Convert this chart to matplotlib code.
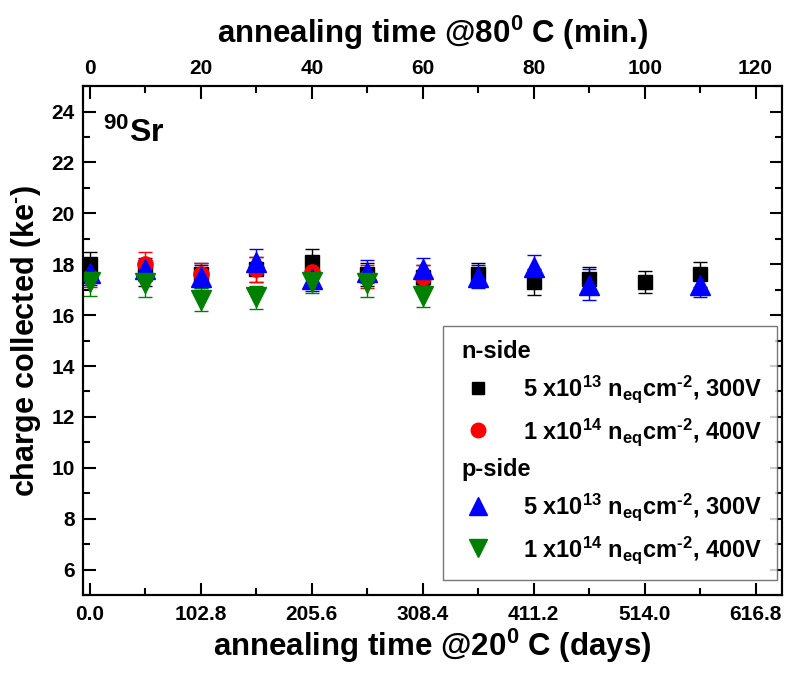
import numpy as np
import matplotlib
matplotlib.use('Agg')
import matplotlib.pyplot as plt
from matplotlib.lines import Line2D

plt.rcParams['font.family'] = ['Liberation Sans', 'DejaVu Sans']
plt.rcParams['font.weight'] = 'bold'
plt.rcParams['mathtext.fontset'] = 'custom'
plt.rcParams['mathtext.rm'] = 'Liberation Sans:bold'
plt.rcParams['mathtext.bf'] = 'Liberation Sans:bold'
plt.rcParams['mathtext.default'] = 'rm'

# annealing time at 80 C (min.) -> days at 20 C
days_per_min = 102.8 / 20

# n-side 5e13, 300V
t_n5 = [0, 10, 20, 30, 40, 50, 60, 70, 80, 90, 100, 110]
q_n5 = [18.0, 17.65, 17.6, 17.8, 18.1, 17.6, 17.5, 17.6, 17.3, 17.4, 17.3, 17.6]
e_n5 = [0.5, 0.5, 0.45, 0.5, 0.5, 0.45, 0.45, 0.45, 0.5, 0.5, 0.45, 0.5]

# n-side 1e14, 400V
t_n1 = [0, 10, 20, 30, 40, 50, 60]
q_n1 = [17.5, 18.0, 17.6, 17.8, 17.7, 17.5, 17.5]
e_n1 = [0.4, 0.5, 0.45, 0.5, 0.45, 0.45, 0.45]

# p-side 5e13, 300V
t_p5 = [0, 10, 20, 30, 40, 50, 60, 70, 80, 90, 110]
q_p5 = [17.65, 17.8, 17.5, 18.1, 17.4, 17.7, 17.8, 17.5, 17.9, 17.2, 17.2]
e_p5 = [0.45, 0.45, 0.45, 0.5, 0.45, 0.45, 0.45, 0.45, 0.45, 0.6, 0.5]

# p-side 1e14, 400V
t_p1 = [0, 10, 20, 30, 40, 50, 60]
q_p1 = [17.3, 17.25, 16.6, 16.7, 17.3, 17.25, 16.75]
e_p1 = [0.55, 0.55, 0.45, 0.45, 0.45, 0.55, 0.45]

lab5 = r'5 x10$^{13}$ n$_{eq}$cm$^{\text{-2}}$, 300V'
lab1 = r'1 x10$^{14}$ n$_{eq}$cm$^{\text{-2}}$, 400V'
series = [
    (t_n5, q_n5, e_n5, 's', 'black', 9.5, lab5),
    (t_n1, q_n1, e_n1, 'o', 'red', 11, lab1),
    (t_p5, q_p5, e_p5, '^', 'blue', 14, lab5),
    (t_p1, q_p1, e_p1, 'v', 'green', 14, lab1),
]

fig = plt.figure(figsize=(7.88, 6.78), dpi=100)
ax = fig.add_axes([0.1053, 0.1224, 0.8867, 0.7506])

handles = []
for t, q, e, m, c, ms, lab in series:
    x = np.array(t) * days_per_min
    ax.errorbar(x, q, yerr=e, fmt=m, color=c, ecolor=c, ms=ms, mec=c,
                capsize=5, elinewidth=1, capthick=1)
    handles.append(Line2D([], [], ls='none', marker=m, color=c, ms=ms * 0.95))

xmin, xmax = -6.5, 641
ax.set_xlim(xmin, xmax)
ax.set_ylim(5, 25)
ax.set_xticks(np.arange(0, 617, 102.8))
ax.set_xticklabels(['%.1f' % v for v in np.arange(0, 617, 102.8)])
ax.set_xticks(np.arange(0, 617, 51.4), minor=True)
ax.set_yticks(np.arange(6, 25, 2))
ax.set_yticks(np.arange(5, 26, 1), minor=True)

ax2 = ax.twiny()
ax2.set_xlim(xmin / days_per_min, xmax / days_per_min)
ax2.set_xticks(np.arange(0, 121, 20))
ax2.set_xticks(np.arange(0, 121, 10), minor=True)

for a in (ax, ax2):
    for s in a.spines.values():
        s.set_linewidth(1.5)
    a.tick_params(which='both', direction='in', width=1.5, labelsize=15)
    a.tick_params(which='major', length=9)
    a.tick_params(which='minor', length=5)
ax.tick_params(which='both', right=True)
ax.tick_params(axis='x', pad=7)
ax.tick_params(axis='y', pad=6)
ax2.tick_params(axis='x', pad=6)

ax.set_xlabel(r'annealing time @20$^{0}$ C (days)', fontsize=22.5, fontweight='bold', labelpad=2)
ax2.set_xlabel(r'annealing time @80$^{0}$ C (min.)', fontsize=22.5, fontweight='bold', labelpad=11)
ax.set_ylabel(r'charge collected (ke$^{\text{-}}$)', fontsize=22, fontweight='bold', labelpad=6)

ax.text(0.029, 0.89, r'$^{90}$Sr', transform=ax.transAxes, fontsize=23, fontweight='bold')

blank = Line2D([], [], ls='none')
leg_handles = [blank, handles[0], handles[1], blank, handles[2], handles[3]]
leg_labels = ['n-side', series[0][6], series[1][6], 'p-side', series[2][6], series[3][6]]
leg = ax.legend(leg_handles, leg_labels, loc='lower right', bbox_to_anchor=(0.993, 0.03),
                fontsize=17, frameon=True, fancybox=False, edgecolor='#555555',
                handlelength=1.8, handletextpad=1.0, labelspacing=0.45,
                borderpad=0.6, borderaxespad=0)
leg.get_frame().set_linewidth(1.0)
for i in (0, 3):
    leg.get_texts()[i].set_position((-62, 0))

fig.savefig('out.png', dpi=100)
